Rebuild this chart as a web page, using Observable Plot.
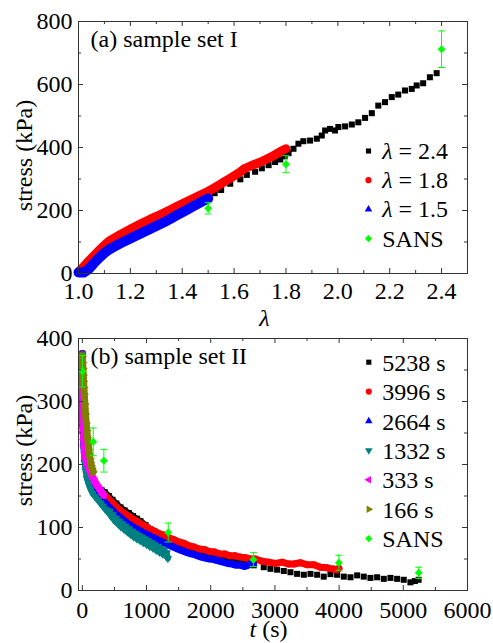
<!DOCTYPE html>
<html>
<head>
<meta charset="utf-8">
<script src="https://cdn.jsdelivr.net/npm/d3@7"></script>
<script src="https://cdn.jsdelivr.net/npm/@observablehq/plot@0.6"></script>
<style>
html, body { margin: 0; padding: 0; background: #fff; overflow: hidden; }
#chart svg { display: block; }
#chart svg, #chart svg text, #chart svg tspan { font-family: "Liberation Serif", "Times New Roman", "DejaVu Serif", serif !important; font-size: 24px; }
</style>
</head>
<body>
<div id="chart"></div>
<script>
// ---------------- Panel (a): stress vs lambda ----------------
const a_lam24_x = [1.00,1.05,1.10,1.15,1.20,1.25,1.30,1.35,1.40,1.45,1.50,1.525,1.55,1.585,1.624,1.649,1.681,1.707,1.733,1.758,1.778,1.795,1.81,1.829,1.848,1.867,1.893,1.919,1.938,1.951,1.97,1.989,2.002,2.028,2.054,2.079,2.105,2.131,2.156,2.182,2.208,2.233,2.259,2.285,2.304,2.329,2.355,2.381];
const a_lam24_y = [3,45,78,105,126,146,166,186,207,228,246,255,265,285,299,313,323,334,344,354,362,372,382,396,412,420,422,428,438,454,459,454,465,467,473,480,494,509,533,544,560,568,581,586,597,604,623,636];
const a_lam18_x = [1.00,1.02,1.04,1.06,1.08,1.10,1.12,1.14,1.16,1.18,1.20,1.22,1.24,1.26,1.28,1.30,1.32,1.34,1.36,1.38,1.40,1.42,1.44,1.46,1.48,1.50,1.52,1.54,1.56,1.58,1.60,1.62,1.64,1.66,1.68,1.70,1.72,1.74,1.76,1.78,1.80];
const a_lam18_y = [5,22,40,57,74,90,104,114,123,132,141,149,158,166,174,181,189,197,205,213,221,229,237,245,253,261,270,280,290,300,310,320,333,340,347,353,361,369,378,388,396];
const a_lam15_x = [1.00,1.02,1.04,1.06,1.08,1.10,1.12,1.14,1.16,1.18,1.20,1.22,1.24,1.26,1.28,1.30,1.32,1.34,1.36,1.38,1.40,1.42,1.44,1.46,1.48,1.50];
const a_lam15_y = [3,3,14,33,50,65,77,86,95,103,111,119,127,135,143,151,159,167,176,185,194,203,212,221,230,238];
const a_sans_x = [1.5, 1.8, 2.4];
const a_sans_y = [207, 347, 712];
const a_sans_err = [18, 27, 58];
const a_xTicks = [1.0, 1.2, 1.4, 1.6, 1.8, 2.0, 2.2, 2.4];
const a_xMinor = [1.1, 1.3, 1.5, 1.7, 1.9, 2.1, 2.3, 2.5];
const a_yTicks = [0, 200, 400, 600, 800];
const a_yMinor = [100, 300, 500, 700];
const a_legend = ["= 2.4", "= 1.8", "= 1.5", "SANS"];

// ---------------- Panel (b): stress vs time ----------------
const b_5238_t = [0,2,5,10,20,40,70,100,150,200,250,300,350,412,470,530,594,660,724,790,850,906,984,1062,1140,1220,1300,1380,1460,1540,1620,1700,1780,1860,1940,2020,2100,2180,2260,2340,2420,2500,2568,2670,2826,2930,3034,3138,3242,3346,3450,3554,3658,3761,3865,3969,4073,4177,4281,4384,4488,4592,4696,4800,4904,5007,5111,5180,5238];
const b_5238_s = [376,342,304,274,244,216,197,186,175,168,163,159,156,150,144,138,132,127,123,118,114,110,104,97,92,88,84,80,77,73,70,68,65,62,60,58,56,54,52,50,48,46,44,40,37,34.4,33,31,29,26.4,25,26.4,25,22,26,25,22,21,24,22,20,21,18.5,20,18.5,17,13,15,17];
const b_3996_t = [0,2,5,10,20,40,70,100,150,200,250,300,350,412,470,530,594,660,724,790,850,906,984,1062,1130,1200,1270,1340,1420,1502,1581,1660,1740,1820,1900,1980,2060,2140,2220,2300,2380,2460,2540,2620,2697,2801,2905,3009,3113,3216,3294,3398,3502,3606,3710,3813,3917,3959,3996];
const b_3996_s = [376,340,302,272,242,214,195,184,172,165,160,155,151,145,139,133,127,122,118,113,110,106,102,97,94,90,88,84,81,77,75,71,69,66,65,62,61,58,58,55,55,53,52,50,50,46.5,45,43,45,42,42,44,41,41,37,36,34,33,35];
const b_2664_t = [0,2,5,10,20,40,70,100,150,200,250,300,350,400,460,520,580,640,700,760,820,880,940,1000,1060,1120,1180,1240,1300,1370,1440,1502,1581,1660,1740,1820,1900,1980,2050,2120,2190,2260,2330,2400,2464,2530,2600,2664];
const b_2664_s = [375,335,295,265,235,208,190,178,166,158,151,145,140,134,128,122,117,112,107,103,99,96,92,89,86,83,80,77,74,71,68,65,62,59,57,54,52,50,49,47,45,43,42,40,40,38,41,43];
const b_1332_t = [0,2,5,10,20,35,50,70,100,130,160,200,240,280,320,360,400,425,450,475,500,525,550,575,600,625,650,675,700,725,750,775,800,825,850,875,900,925,950,975,1000,1025,1050,1075,1100,1125,1150,1175,1200,1225,1250,1275,1300,1315,1332];
const b_1332_s = [375,328,286,256,226,203,190,178,168,160,154,149,144,139,134,129,124,126,117,120,111,115,106,110,101,106,97,102,93,98,89,94,85,91,82,88,79,85,76,82,73,79,70,76,67,73,64,70,61,67,58,64,55,60,51];
const b_333_t = [0,3,6,10,15,20,30,40,50,60,80,100,120,140,160,180,200,220,240,260,280,300,320,333];
const b_333_s = [370,320,290,268,252,240,228,219,212,207,200,194,189,184,180,176,172,168,165,162,159,156,153,151];
const b_166_t = [0,5,10,15,20,25,30,40,50,60,70,80,90,100,110,120,130,140,150,160,166];
const b_166_s = [372,362,352,342,332,322,312,296,280,266,254,243,233,224,216,209,203,198,194,190,188];
const b_sans_t = [0, 169, 335, 1338, 2665, 3996, 5241];
const b_sans_s = [348, 236, 206, 92, 49, 44, 28];
const b_sans_err = [25, 22, 18, 15, 11, 12, 9];
const b_xTicks = [0, 1000, 2000, 3000, 4000, 5000, 6000];
const b_xMinor = [500, 1500, 2500, 3500, 4500, 5500];
const b_yTicks = [0, 100, 200, 300, 400];
const b_yMinor = [50, 150, 250, 350];
const b_legend = ["5238 s", "3996 s", "2664 s", "1332 s", "333 s", "166 s", "SANS"];

// ---------------- helpers ----------------
const FONT = "Liberation Serif, Times New Roman, DejaVu Serif, serif";
const FS = 24;
const FRAME = "#333";
const GREEN = "#00ff00";
const TXT = {fontFamily: FONT, fontSize: FS, fill: "#000"};
function rows(xs, ys, es) { return xs.map((x, i) => ({x, y: ys[i], e: es ? es[i] : 0})); }
function tri(dir) {
  return {draw(ctx, size) {
    const a = Math.sqrt(4 * size / Math.sqrt(3)), h = a * Math.sqrt(3) / 2;
    if (dir === "up") { ctx.moveTo(0, -2*h/3); ctx.lineTo(a/2, h/3); ctx.lineTo(-a/2, h/3); }
    else if (dir === "down") { ctx.moveTo(0, 2*h/3); ctx.lineTo(a/2, -h/3); ctx.lineTo(-a/2, -h/3); }
    else if (dir === "left") { ctx.moveTo(-2*h/3, 0); ctx.lineTo(h/3, a/2); ctx.lineTo(h/3, -a/2); }
    else { ctx.moveTo(2*h/3, 0); ctx.lineTo(-h/3, a/2); ctx.lineTo(-h/3, -a/2); }
    ctx.closePath();
  }};
}
const diamond = {draw(ctx, size) { const d = Math.sqrt(size / 2); ctx.moveTo(0, -d); ctx.lineTo(d, 0); ctx.lineTo(0, d); ctx.lineTo(-d, 0); ctx.closePath(); }};
const cap = {draw(ctx, size) { ctx.moveTo(-3.5, 0); ctx.lineTo(3.5, 0); }};

const SYM = {
  square: {symbol: "square", r: 3.4, lr: 2.9},
  circle: {symbol: "circle", r: 3.5, lr: 3.1},
  up: {symbol: tri("up"), r: 3.1, lr: 2.8},
  down: {symbol: tri("down"), r: 3.1, lr: 2.8},
  left: {symbol: tri("left"), r: 3.1, lr: 2.8},
  right: {symbol: tri("right"), r: 3.1, lr: 2.8},
  diamond: {symbol: diamond, r: 3.2, lr: 2.9}
};

function tickMarks(xMaj, xMin, yMaj, yMin, iw, ih) {
  const M = 5, m = 3, o = {stroke: FRAME, strokeWidth: 1};
  return [
    Plot.ruleX(xMaj, {x: d => d, insetTop: ih - M, ...o}),
    Plot.ruleX(xMaj, {x: d => d, insetBottom: ih - M, ...o}),
    Plot.ruleX(xMin, {x: d => d, insetTop: ih - m, ...o}),
    Plot.ruleX(xMin, {x: d => d, insetBottom: ih - m, ...o}),
    Plot.ruleY(yMaj, {y: d => d, insetRight: iw - M, ...o}),
    Plot.ruleY(yMaj, {y: d => d, insetLeft: iw - M, ...o}),
    Plot.ruleY(yMin, {y: d => d, insetRight: iw - m, ...o}),
    Plot.ruleY(yMin, {y: d => d, insetLeft: iw - m, ...o})
  ];
}
// dense measured series: a band (line of marker width) under the markers
function series(xs, ys, kind, color, band, bandUpTo) {
  const s = SYM[kind];
  const d = rows(xs, ys);
  const out = [];
  if (band) {
    const bd = bandUpTo == null ? d : d.filter(p => p.x <= bandUpTo);
    out.push(Plot.line(bd, {x: "x", y: "y", stroke: color, strokeWidth: band, strokeLinejoin: "round", strokeLinecap: "round"}));
  }
  out.push(Plot.dot(d, {x: "x", y: "y", symbol: s.symbol, r: s.r, fill: color}));
  return out;
}
function sansMarks(xs, ys, es) {
  const d = rows(xs, ys, es);
  return [
    Plot.ruleX(d, {x: "x", y1: r => r.y - r.e, y2: r => r.y + r.e, stroke: GREEN, strokeWidth: 1}),
    Plot.dot(d, {x: "x", y: r => r.y - r.e, symbol: cap, r: 2, stroke: GREEN, fill: "none", strokeWidth: 1}),
    Plot.dot(d, {x: "x", y: r => r.y + r.e, symbol: cap, r: 2, stroke: GREEN, fill: "none", strokeWidth: 1}),
    Plot.dot(d, {x: "x", y: "y", symbol: diamond, r: SYM.diamond.r, fill: GREEN})
  ];
}
function legendMarks(labels, kinds, colors, x0, y0, step, textX, greek) {
  const out = [];
  labels.forEach((lab, i) => {
    const s = SYM[kinds[i]];
    const dy = y0 + i * step;
    out.push(Plot.dot([lab], {frameAnchor: "top-left", dx: x0, dy, symbol: s.symbol, r: s.lr, fill: colors[i]}));
    if (greek && lab !== "SANS") {
      out.push(Plot.text(["λ"], {frameAnchor: "top-left", dx: textX, dy: dy + 8, text: d => d, textAnchor: "start", lineAnchor: "bottom", fontStyle: "italic", ...TXT}));
      out.push(Plot.text([lab], {frameAnchor: "top-left", dx: textX + 16.3, dy: dy + 8, text: d => d, textAnchor: "start", lineAnchor: "bottom", ...TXT}));
    } else {
      out.push(Plot.text([lab], {frameAnchor: "top-left", dx: textX, dy: dy + 8.5, text: d => d, textAnchor: "start", lineAnchor: "bottom", ...TXT}));
    }
  });
  return out;
}
const baseStyle = {fontFamily: FONT, fontSize: "24px", color: "#000", background: "#fff", overflow: "visible"};

// ---------------- Panel (a) ----------------
const A = {w: 493, h: 322, ml: 78, mr: 26, mt: 21, mb: 49};
const aIW = A.w - A.ml - A.mr, aIH = A.h - A.mt - A.mb;
const plotA = Plot.plot({
  width: A.w, height: A.h, marginLeft: A.ml, marginRight: A.mr, marginTop: A.mt, marginBottom: A.mb,
  style: baseStyle,
  x: {domain: [1.0, 2.5]},
  y: {domain: [0, 800]},
  marks: [
    ...series(a_lam24_x, a_lam24_y, "square", "#000"),
    ...series(a_lam18_x, a_lam18_y, "circle", "#ff0000", 9),
    ...series(a_lam15_x, a_lam15_y, "up", "#0000ff", 10),
    ...sansMarks(a_sans_x, a_sans_y, a_sans_err),
    Plot.frame({stroke: FRAME, strokeWidth: 1}),
    ...tickMarks(a_xTicks, a_xMinor, a_yTicks, a_yMinor, aIW, aIH),
    Plot.axisX(a_xTicks, {anchor: "bottom", tickSize: 0, tickPadding: 8, tickFormat: d => d.toFixed(1), label: null, ...TXT}),
    Plot.axisY(a_yTicks, {anchor: "left", tickSize: 0, tickPadding: 6, tickFormat: d => String(d), label: null, ...TXT}),
    Plot.text(["λ"], {frameAnchor: "bottom", dx: -8.5, dy: 52, text: d => d, textAnchor: "middle", lineAnchor: "bottom", fontStyle: "italic", ...TXT}),
    Plot.text(["stress (kPa)"], {frameAnchor: "left", dx: -54.5, dy: 8, rotate: -90, text: d => d, textAnchor: "middle", lineAnchor: "middle", ...TXT}),
    Plot.text(["(a) sample set I"], {frameAnchor: "top-left", dx: 12, dy: 25.7, text: d => d, textAnchor: "start", lineAnchor: "bottom", ...TXT}),
    ...legendMarks(a_legend, ["square", "circle", "up", "diamond"], ["#000", "#ff0000", "#0000ff", GREEN], 290, 129.5, 29.2, 303.7, true)
  ]
});

// ---------------- Panel (b) ----------------
const B = {w: 493, h: 321, ml: 78, mr: 26, mt: 16, mb: 53};
const bIW = B.w - B.ml - B.mr, bIH = B.h - B.mt - B.mb;
const plotB = Plot.plot({
  width: B.w, height: B.h, marginLeft: B.ml, marginRight: B.mr, marginTop: B.mt, marginBottom: B.mb,
  style: baseStyle,
  x: {domain: [-60, 6000]},
  y: {domain: [0, 400]},
  marks: [
    ...series(b_5238_t, b_5238_s, "square", "#000", 6, 2600),
    ...series(b_3996_t, b_3996_s, "circle", "#ff0000", 7),
    ...series(b_2664_t, b_2664_s, "up", "#0000ff", 7),
    ...series(b_1332_t, b_1332_s, "down", "#008080", 6),
    ...series(b_333_t, b_333_s, "left", "#ff00ff", 7),
    ...series(b_166_t, b_166_s, "right", "#808000", 7),
    ...sansMarks(b_sans_t, b_sans_s, b_sans_err),
    Plot.frame({stroke: FRAME, strokeWidth: 1}),
    ...tickMarks(b_xTicks, b_xMinor, b_yTicks, b_yMinor, bIW, bIH),
    Plot.axisX(b_xTicks, {anchor: "bottom", tickSize: 0, tickPadding: 10, tickFormat: d => String(d), label: null, ...TXT}),
    Plot.axisY(b_yTicks, {anchor: "left", tickSize: 0, tickPadding: 6, tickFormat: d => String(d), label: null, ...TXT}),
    Plot.text(["t"], {frameAnchor: "bottom", dx: 249 - 272.5, dy: 46.5, text: d => d, textAnchor: "start", lineAnchor: "bottom", fontStyle: "italic", ...TXT}),
    Plot.text(["(s)"], {frameAnchor: "bottom", dx: 261.7 - 272.5, dy: 46.5, text: d => d, textAnchor: "start", lineAnchor: "bottom", ...TXT}),
    Plot.text(["stress (kPa)"], {frameAnchor: "left", dx: -54.5, dy: -14, rotate: -90, text: d => d, textAnchor: "middle", lineAnchor: "middle", ...TXT}),
    Plot.text(["(b) sample set II"], {frameAnchor: "top-left", dx: 12, dy: 25.3, text: d => d, textAnchor: "start", lineAnchor: "bottom", ...TXT}),
    ...legendMarks(b_legend, ["square", "circle", "up", "down", "left", "right", "diamond"], ["#000", "#ff0000", "#0000ff", "#008080", "#ff00ff", "#808000", GREEN], 290.3, 23.7, 29.4, 303.7, false)
  ]
});

const chart = document.getElementById("chart");
chart.appendChild(plotA);
chart.appendChild(plotB);
</script>
</body>
</html>
